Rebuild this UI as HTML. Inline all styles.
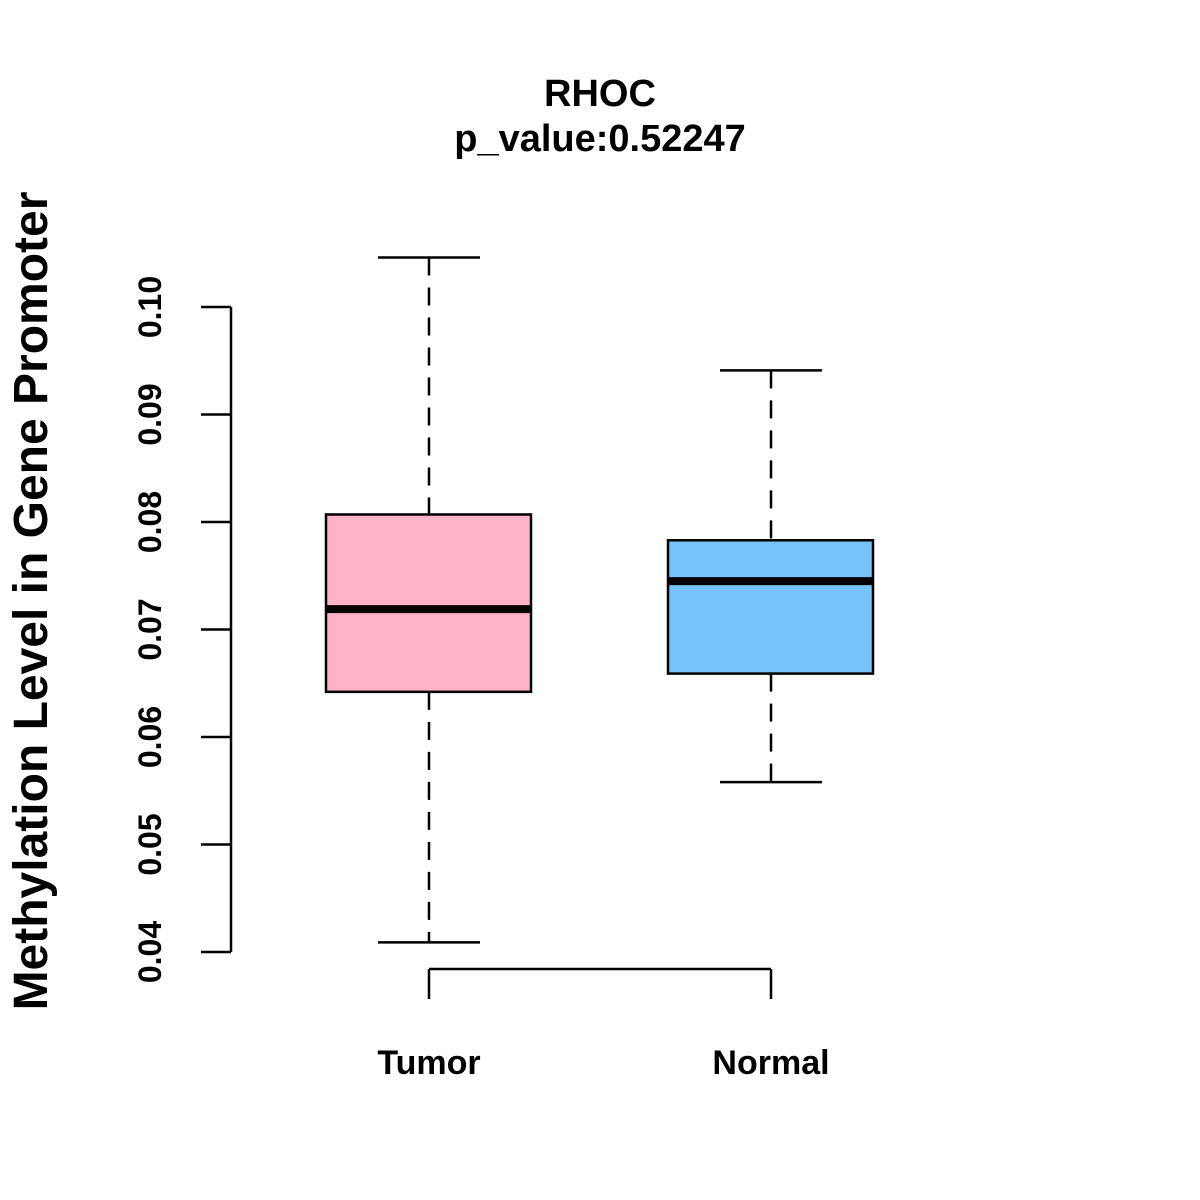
<!DOCTYPE html>
<html><head><meta charset="utf-8"><style>
html,body{margin:0;background:#fff;overflow:hidden;width:1200px;height:1200px}
svg{display:block}
svg text{font-family:"Liberation Sans",Arial,sans-serif;font-weight:bold;fill:#000}
</style></head><body>
<svg width="1200" height="1200" viewBox="0 0 1200 1200" id="chart">
<rect width="1200" height="1200" fill="#fff"/>
<text x="600" y="106" font-size="38" text-anchor="middle">RHOC</text>
<text x="600" y="151" font-size="38" text-anchor="middle">p_value:0.52247</text>
<text transform="translate(47,601) rotate(-90)" font-size="48" text-anchor="middle">Methylation Level in Gene Promoter</text>
<g id="yaxis"></g>
<g id="xaxis"></g>
<g id="boxes"></g>
</svg>
<script>
const categories=["Tumor","Normal"];
const whiskerLow=[0.0409,0.0558];
const q1=[0.0642,0.0659];
const median=[0.0719,0.0745];
const q3=[0.0807,0.0783];
const whiskerHigh=[0.1046,0.0941];
const colors=["#FFB3C6","#77C2F8"];
const yTicks=[0.04,0.05,0.06,0.07,0.08,0.09,0.10];
const yTickLabels=["0.04","0.05","0.06","0.07","0.08","0.09","0.10"];
const NS="http://www.w3.org/2000/svg";
function y(v){return 952-(v-0.04)*10750;}
function x(i){return 429+i*342;}
function mk(tag,attrs,parent){const e=document.createElementNS(NS,tag);for(const k in attrs)e.setAttribute(k,attrs[k]);parent.appendChild(e);return e;}
const ya=document.getElementById('yaxis');
mk('line',{x1:231,x2:231,y1:y(yTicks[yTicks.length-1]),y2:y(yTicks[0]),stroke:'#000','stroke-width':2.5},ya);
yTicks.forEach((t,i)=>{
 const l=mk('line',{x1:201,x2:231,y1:y(t),y2:y(t),stroke:'#000','stroke-width':2.5},ya);
 
 
 const tx=mk('text',{transform:`translate(161,${y(t)}) rotate(-90)`,'font-size':32,'text-anchor':'middle'},ya);
 tx.textContent=yTickLabels[i];
 
 
});
const xa=document.getElementById('xaxis');
mk('line',{x1:x(0),x2:x(categories.length-1),y1:969,y2:969,stroke:'#000','stroke-width':2.5},xa);
categories.forEach((c,i)=>{
 const l=mk('line',{x1:x(i),x2:x(i),y1:969,y2:999,stroke:'#000','stroke-width':2.5},xa);
 
 
 const t=mk('text',{x:x(i),y:1074,'font-size':34,'text-anchor':'middle'},xa);
 t.textContent=c;
 
 
});
const bx=document.getElementById('boxes');
categories.forEach((c,i)=>{
 const g=mk('g',{},bx);
 
 
 const cx=x(i);
 mk('line',{x1:cx,x2:cx,y1:y(whiskerHigh[i]),y2:y(q3[i]),stroke:'#000','stroke-width':2.5,'stroke-dasharray':'18,12'},g);
 mk('line',{x1:cx,x2:cx,y1:y(q1[i]),y2:y(whiskerLow[i]),stroke:'#000','stroke-width':2.5,'stroke-dasharray':'18,12'},g);
 mk('line',{x1:cx-51,x2:cx+51,y1:y(whiskerHigh[i]),y2:y(whiskerHigh[i]),stroke:'#000','stroke-width':2.5},g);
 mk('line',{x1:cx-51,x2:cx+51,y1:y(whiskerLow[i]),y2:y(whiskerLow[i]),stroke:'#000','stroke-width':2.5},g);
 mk('rect',{x:cx-103,y:y(q3[i]),width:205,height:y(q1[i])-y(q3[i]),fill:colors[i],stroke:'#000','stroke-width':2.5},g);
 mk('line',{x1:cx-103,x2:cx+102,y1:y(median[i]),y2:y(median[i]),stroke:'#000','stroke-width':8},g);
});
</script>
</body></html>
